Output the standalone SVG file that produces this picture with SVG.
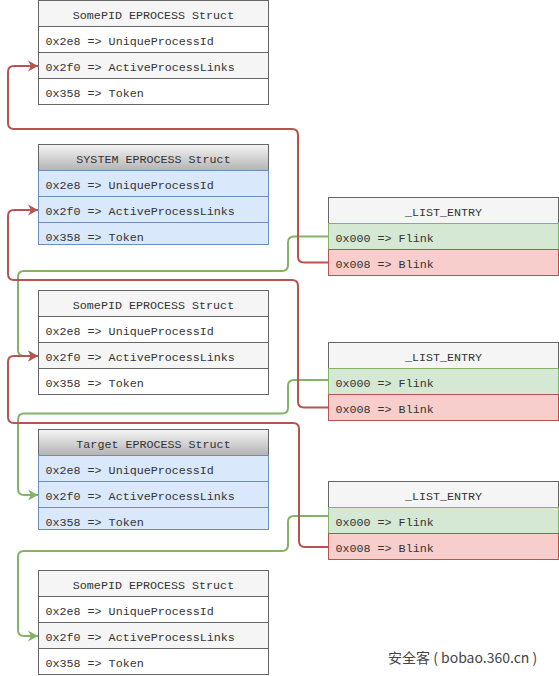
<svg xmlns="http://www.w3.org/2000/svg" width="559" height="676" viewBox="0 0 559 676">
<defs>
<linearGradient id="hdrGrad" x1="0" y1="0" x2="0" y2="1">
<stop offset="0" stop-color="#f5f5f5"/>
<stop offset="1" stop-color="#b3b3b3"/>
</linearGradient>
<marker id="arrRed" markerUnits="userSpaceOnUse" markerWidth="12" markerHeight="12" viewBox="0 0 12 12" refX="10" refY="6" orient="auto">
<path d="M0,0.5 L10,6 L0,11.5 L3,6 Z" fill="#b85450"/>
</marker>
<marker id="arrGreen" markerUnits="userSpaceOnUse" markerWidth="12" markerHeight="12" viewBox="0 0 12 12" refX="10" refY="6" orient="auto">
<path d="M0,0.5 L10,6 L0,11.5 L3,6 Z" fill="#82b366"/>
</marker>
</defs>
<style>
.t{font-family:"Liberation Mono","Courier New",monospace;font-size:11.7px;fill:#333333}
.c{text-anchor:middle}
.gh{fill:#f5f5f5;stroke:#666666;stroke-width:1}
.gw{fill:#ffffff;stroke:#666666;stroke-width:1}
.gg{fill:url(#hdrGrad);stroke:#666666;stroke-width:1}
.bl{fill:#dae8fc;stroke:#6c8ebf;stroke-width:1}
.gr{fill:#d5e8d4;stroke:#82b366;stroke-width:1}
.rd{fill:#f8cecc;stroke:#b85450;stroke-width:1}
.lr{fill:none;stroke:#b85450;stroke-width:2;marker-end:url(#arrRed)}
.lg{fill:none;stroke:#82b366;stroke-width:2;marker-end:url(#arrGreen)}
.wm{font-family:"Noto Sans CJK SC","Noto Sans",sans-serif;font-size:14px;fill:#444444}
</style>

<g id="somepid1">
<rect class="gh" x="38.5" y="0.5" width="230" height="26"/>
<rect class="gw" x="38.5" y="26.5" width="230" height="26"/>
<rect class="gh" x="38.5" y="52.5" width="230" height="26"/>
<rect class="gw" x="38.5" y="78.5" width="230" height="26"/>
<text class="t c" x="153.5" y="19">SomePID EPROCESS Struct</text>
<text class="t" x="45.5" y="45">0x2e8 =&gt; UniqueProcessId</text>
<text class="t" x="45.5" y="71">0x2f0 =&gt; ActiveProcessLinks</text>
<text class="t" x="45.5" y="97">0x358 =&gt; Token</text>
</g>

<g id="system">
<rect class="gg" x="38.5" y="144.5" width="230" height="26"/>
<rect class="bl" x="38.5" y="170.5" width="230" height="26"/>
<rect class="bl" x="38.5" y="196.5" width="230" height="26"/>
<rect class="bl" x="38.5" y="222.5" width="230" height="22"/>
<text class="t c" x="153.5" y="163">SYSTEM EPROCESS Struct</text>
<text class="t" x="45.5" y="189">0x2e8 =&gt; UniqueProcessId</text>
<text class="t" x="45.5" y="215">0x2f0 =&gt; ActiveProcessLinks</text>
<text class="t" x="45.5" y="241">0x358 =&gt; Token</text>
</g>

<g id="somepid2">
<rect class="gh" x="38.5" y="290.5" width="230" height="26"/>
<rect class="gw" x="38.5" y="316.5" width="230" height="26"/>
<rect class="gh" x="38.5" y="342.5" width="230" height="26"/>
<rect class="gw" x="38.5" y="368.5" width="230" height="26"/>
<text class="t c" x="153.5" y="309">SomePID EPROCESS Struct</text>
<text class="t" x="45.5" y="335">0x2e8 =&gt; UniqueProcessId</text>
<text class="t" x="45.5" y="361">0x2f0 =&gt; ActiveProcessLinks</text>
<text class="t" x="45.5" y="387">0x358 =&gt; Token</text>
</g>

<g id="target">
<rect class="gg" x="38.5" y="429.5" width="230" height="26"/>
<rect class="bl" x="38.5" y="455.5" width="230" height="26"/>
<rect class="bl" x="38.5" y="481.5" width="230" height="26"/>
<rect class="bl" x="38.5" y="507.5" width="230" height="22"/>
<text class="t c" x="153.5" y="448">Target EPROCESS Struct</text>
<text class="t" x="45.5" y="474">0x2e8 =&gt; UniqueProcessId</text>
<text class="t" x="45.5" y="500">0x2f0 =&gt; ActiveProcessLinks</text>
<text class="t" x="45.5" y="526">0x358 =&gt; Token</text>
</g>

<g id="somepid3">
<rect class="gh" x="38.5" y="570.5" width="230" height="26"/>
<rect class="gw" x="38.5" y="596.5" width="230" height="26"/>
<rect class="gh" x="38.5" y="622.5" width="230" height="26"/>
<rect class="gw" x="38.5" y="648.5" width="230" height="26"/>
<text class="t c" x="153.5" y="589">SomePID EPROCESS Struct</text>
<text class="t" x="45.5" y="615">0x2e8 =&gt; UniqueProcessId</text>
<text class="t" x="45.5" y="641">0x2f0 =&gt; ActiveProcessLinks</text>
<text class="t" x="45.5" y="667">0x358 =&gt; Token</text>
</g>

<g id="list1">
<rect class="gh" x="328.5" y="197.5" width="230" height="26"/>
<rect class="gr" x="328.5" y="223.5" width="230" height="26"/>
<rect class="rd" x="328.5" y="249.5" width="230" height="26"/>
<text class="t c" x="443.5" y="216">_LIST_ENTRY</text>
<text class="t" x="335.5" y="242">0x000 =&gt; Flink</text>
<text class="t" x="335.5" y="268">0x008 =&gt; Blink</text>
</g>

<g id="list2">
<rect class="gh" x="328.5" y="342.5" width="230" height="26"/>
<rect class="gr" x="328.5" y="368.5" width="230" height="26"/>
<rect class="rd" x="328.5" y="394.5" width="230" height="26"/>
<text class="t c" x="443.5" y="361">_LIST_ENTRY</text>
<text class="t" x="335.5" y="387">0x000 =&gt; Flink</text>
<text class="t" x="335.5" y="413">0x008 =&gt; Blink</text>
</g>

<g id="list3">
<rect class="gh" x="328.5" y="481.5" width="230" height="26"/>
<rect class="gr" x="328.5" y="507.5" width="230" height="26"/>
<rect class="rd" x="328.5" y="533.5" width="230" height="26"/>
<text class="t c" x="443.5" y="500">_LIST_ENTRY</text>
<text class="t" x="335.5" y="526">0x000 =&gt; Flink</text>
<text class="t" x="335.5" y="552">0x008 =&gt; Blink</text>
</g>

<g id="connectors">
<path class="lg" d="M328.5,236.5 H294 Q288,236.5 288,242.5 V265 Q288,271 282,271 H24 Q18,271 18,277 V350 Q18,356 24,356 H38"/>
<path class="lg" d="M328.5,380 H294 Q288,380 288,386 V407.5 Q288,413.5 282,413.5 H24 Q18,413.5 18,419.5 V489 Q18,495 24,495 H38"/>
<path class="lg" d="M328.5,516 H294 Q288,516 288,522 V545 Q288,551 282,551 H24 Q18,551 18,557 V630 Q18,636 24,636 H38"/>
<path class="lr" d="M328.5,262.5 H304 Q298,262.5 298,256.5 V135 Q298,129 292,129 H14 Q8,129 8,123 V72 Q8,66 14,66 H38"/>
<path class="lr" d="M328.5,407.5 H304 Q298,407.5 298,401.5 V286 Q298,280 292,280 H14 Q8,280 8,274 V216 Q8,210 14,210 H38"/>
<path class="lr" d="M328.5,547 H305 Q299,547 299,541 V429 Q299,423 293,423 H14 Q8,423 8,417 V362 Q8,356 14,356 H38"/>
</g>

<text class="wm" x="388" y="663">安全客 ( bobao.360.cn )</text>
</svg>
